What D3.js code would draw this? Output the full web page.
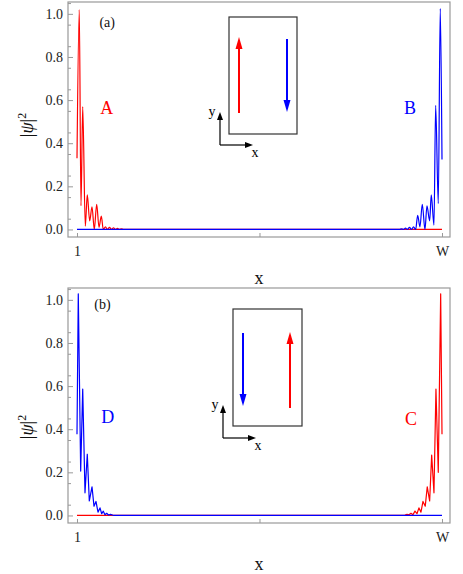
<!DOCTYPE html>
<html>
<head>
<meta charset="utf-8">
<script src="https://cdn.jsdelivr.net/npm/d3@7"></script>
<style>
  body { margin: 0; background: #fff; }
  svg { display: block; font-family: 'Liberation Serif', 'Times New Roman', serif; }
</style>
</head>
<body>
<script>
// site index runs from 1 to W; W is put at 100 here
const W = 100;
const xTicks = [1, 50.5, W];
const xTickLabels = ['1', '', 'W'];
const yTicks = [0, 0.2, 0.4, 0.6, 0.8, 1.0];

// panel (a): red state A at left edge, blue state B at right edge
const redA = [
  [1, 0.33], [1.62, 1.02], [2.08, 0.11], [2.55, 0.57], [3.25, 0.015], [3.79, 0.16],
  [4.44, 0.04], [5.07, 0.105], [5.69, 0], [6.34, 0.117], [6.97, 0.01], [7.59, 0.062],
  [8.13, 0], [8.73, 0.012], [9.27, 0], [9.81, 0.01], [10.36, 0], [10.9, 0.008],
  [11.44, 0], [11.98, 0.005], [12.53, 0], [13.07, 0.003], [13.61, 0], [100, 0]
];
const blueB = [
  [1, 0], [88.5, 0], [89.0, 0.003], [89.55, 0], [90.09, 0.006], [90.63, 0],
  [91.18, 0.01], [91.72, 0], [92.26, 0.012], [92.86, 0], [93.4, 0.066], [94.02, 0.012],
  [94.65, 0.117], [95.38, 0], [95.92, 0.11], [96.65, 0.04], [97.09, 0.16], [97.82, 0.02],
  [98.28, 0.576], [98.99, 0.12], [99.53, 1.025], [100, 0.325]
];

// panel (b): blue state D at left edge, red state C at right edge
const blueD = [
  [1, 0.377], [1.35, 1.028], [2.0, 0.206], [2.55, 0.586], [3.17, 0.105], [3.79, 0.284],
  [4.34, 0.067], [5.07, 0.133], [5.61, 0.043], [6.15, 0.065], [6.70, 0.015], [7.24, 0.035],
  [7.70, 0.008], [8.13, 0.02], [8.59, 0.003], [9.05, 0.01], [9.54, 0.002], [10.08, 0.005],
  [11.03, 0], [100, 0]
];
const redC = [
  [1, 0], [89.41, 0], [89.95, 0.002], [90.5, 0.005], [91.04, 0.003], [91.58, 0.01],
  [92.12, 0.003], [92.67, 0.02], [93.21, 0.008], [93.75, 0.035], [94.29, 0.015], [94.84, 0.065],
  [95.46, 0.043], [96.0, 0.133], [96.65, 0.067], [97.2, 0.28], [97.82, 0.105], [98.36, 0.586],
  [98.99, 0.2], [99.64, 1.028], [100, 0.377]
];

const serif = "'Liberation Serif', 'Times New Roman', serif";

const svg = d3.select('body').append('svg')
  .attr('width', 463)
  .attr('height', 574);

const left = 68, right = 450;

const x = d3.scaleLinear()
  .domain([-1.44, 102.17])
  .range([left, right]);

function arrow(g, x1, y1, x2, y2, color, sw, headLen, headW) {
  const dx = x2 - x1, dy = y2 - y1, len = Math.hypot(dx, dy);
  const ux = dx / len, uy = dy / len;
  const bx = x2 - ux * headLen, by = y2 - uy * headLen;
  g.append('line')
    .attr('x1', x1).attr('y1', y1)
    .attr('x2', bx + ux * 1).attr('y2', by + uy * 1)
    .attr('stroke', color)
    .attr('stroke-width', sw);
  g.append('path')
    .attr('d', `M${x2},${y2}L${bx - uy * headW / 2},${by + ux * headW / 2}L${bx + uy * headW / 2},${by - ux * headW / 2}Z`)
    .attr('fill', color);
}

function drawPanel(p) {
  const y = d3.scaleLinear()
    .domain([-0.035, 1.055])
    .range([p.bottom, p.top]);

  const g = svg.append('g');

  // minor y ticks
  g.append('g')
    .attr('transform', `translate(${left},0)`)
    .call(d3.axisLeft(y)
      .tickValues(d3.range(0.05, 1.06, 0.1))
      .tickSize(-3)
      .tickFormat(''))
    .call(a => a.select('.domain').remove())
    .selectAll('line').attr('stroke', '#999');

  // major y ticks
  const ya = g.append('g')
    .attr('transform', `translate(${left},0)`)
    .call(d3.axisLeft(y)
      .tickValues(yTicks)
      .tickSize(-5)
      .tickPadding(5)
      .tickFormat(d3.format('.1f')))
    .attr('font-family', serif)
    .attr('font-size', 14);
  ya.select('.domain').remove();
  ya.selectAll('line').attr('stroke', '#999');
  ya.selectAll('text').attr('fill', '#222');

  // x ticks
  const xa = g.append('g')
    .attr('transform', `translate(0,${p.bottom})`)
    .call(d3.axisBottom(x)
      .tickValues(xTicks)
      .tickSize(-4)
      .tickPadding(9)
      .tickFormat((d, i) => xTickLabels[i]))
    .attr('font-family', serif)
    .attr('font-size', 14);
  xa.select('.domain').remove();
  xa.selectAll('line').attr('stroke', '#999');
  xa.selectAll('text').attr('fill', '#222');

  const line = d3.line()
    .x(d => x(d[0]))
    .y(d => y(d[1]))
    .curve(p.curve);

  p.series.forEach(s => {
    g.append('path')
      .datum(s.data)
      .attr('fill', 'none')
      .attr('stroke', s.color)
      .attr('stroke-width', 1.2)
      .attr('stroke-linejoin', 'round')
      .attr('d', line);
  });

  // frame
  g.append('rect')
    .attr('x', left)
    .attr('y', p.top)
    .attr('width', right - left)
    .attr('height', p.bottom - p.top)
    .attr('fill', 'none')
    .attr('stroke', '#999')
    .attr('stroke-width', 1.2);

  // panel tag and state letters
  g.append('text')
    .attr('x', x(p.tag.x)).attr('y', y(p.tag.y))
    .attr('dy', '0.35em')
    .attr('text-anchor', 'middle')
    .attr('font-size', 14)
    .attr('fill', '#111')
    .text(p.tag.text);

  p.letters.forEach(l => {
    g.append('text')
      .attr('x', x(l.x)).attr('y', y(l.y))
      .attr('dy', '0.35em')
      .attr('text-anchor', 'middle')
      .attr('font-size', 18)
      .attr('fill', l.color)
      .text(l.text);
  });

  // axis titles
  g.append('text')
    .attr('x', (left + right) / 2)
    .attr('y', p.xLabelY)
    .attr('text-anchor', 'middle')
    .attr('font-size', 18)
    .attr('fill', '#111')
    .text('x');

  const yl = g.append('text')
    .attr('transform', `translate(33,${p.yLabelY}) rotate(-90)`)
    .attr('text-anchor', 'middle')
    .attr('font-size', 18)
    .attr('fill', '#111');
  yl.append('tspan').text('|');
  yl.append('tspan').attr('font-style', 'italic').text('ψ');
  yl.append('tspan').text('|');
  yl.append('tspan').attr('font-size', 12).attr('dy', -7).text('2');

  // inset: current directions
  const b = p.box;
  const ins = g.append('g');
  ins.append('rect')
    .attr('x', b.x).attr('y', b.y)
    .attr('width', b.w).attr('height', b.h)
    .attr('fill', 'none')
    .attr('stroke', '#333')
    .attr('stroke-width', 1.2);
  p.arrows.forEach(a => arrow(ins, a.x, a.y1, a.x, a.y2, a.color, 2, 12, 7));

  const o = p.origin;
  arrow(ins, o.x, o.y, o.x, o.y - 33, '#000', 1.2, 8, 6);
  arrow(ins, o.x, o.y, o.x + 33, o.y, '#000', 1.2, 8, 6);
  ins.append('text')
    .attr('x', o.x - 8).attr('y', o.y - 33)
    .attr('dy', '0.3em')
    .attr('text-anchor', 'middle')
    .attr('font-size', 14)
    .text('y');
  ins.append('text')
    .attr('x', o.x + 35).attr('y', o.y + 8)
    .attr('dy', '0.3em')
    .attr('text-anchor', 'middle')
    .attr('font-size', 14)
    .text('x');
}

drawPanel({
  top: 2, bottom: 237,
  curve: d3.curveMonotoneX,
  series: [{data: redA, color: '#ff0000'}, {data: blueB, color: '#0000ff'}],
  tag: {text: '(a)', x: 9.2, y: 0.96},
  letters: [
    {text: 'A', x: 9.1, y: 0.567, color: '#ff0000'},
    {text: 'B', x: 91.3, y: 0.567, color: '#0000ff'}
  ],
  xLabelY: 284,
  yLabelY: 125,
  box: {x: 229, y: 17, w: 68, h: 117},
  arrows: [
    {x: 239, y1: 113, y2: 37, color: '#ff0000'},
    {x: 287, y1: 39, y2: 112, color: '#0000ff'}
  ],
  origin: {x: 220, y: 145}
});

drawPanel({
  top: 288, bottom: 523,
  curve: d3.curveLinear,
  series: [{data: redC, color: '#ff0000'}, {data: blueD, color: '#0000ff'}],
  tag: {text: '(b)', x: 7.9, y: 0.98},
  letters: [
    {text: 'D', x: 9.35, y: 0.456, color: '#0000ff'},
    {text: 'C', x: 91.6, y: 0.451, color: '#ff0000'}
  ],
  xLabelY: 570,
  yLabelY: 427,
  box: {x: 233, y: 309, w: 69, h: 117},
  arrows: [
    {x: 243, y1: 333, y2: 406, color: '#0000ff'},
    {x: 290, y1: 408, y2: 332, color: '#ff0000'}
  ],
  origin: {x: 223, y: 438}
});
</script>
</body>
</html>
